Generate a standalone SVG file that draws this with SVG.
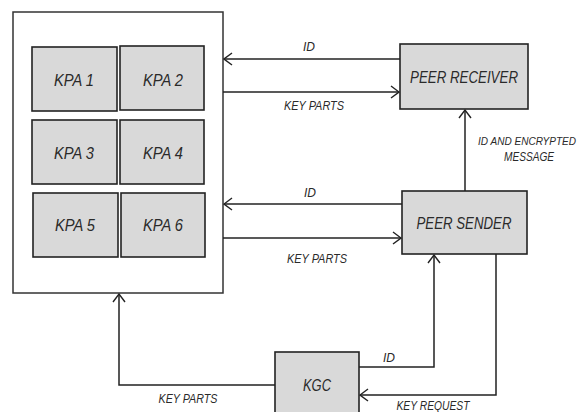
<svg xmlns="http://www.w3.org/2000/svg" width="587" height="412" viewBox="0 0 587 412">
<defs>
<style>
.box{fill:#d9d9d9;stroke:#222;stroke-width:1.6}
.frame{fill:#fff;stroke:#333;stroke-width:1.5}
.ln{fill:none;stroke:#222;stroke-width:1.5}
.big{font-family:"Liberation Sans",Arial,sans-serif;font-style:italic;font-size:17px;fill:#2a2a2a;text-anchor:middle}
.sm{font-family:"Liberation Sans",Arial,sans-serif;font-style:italic;font-size:12px;fill:#2a2a2a;text-anchor:middle}
</style>
<marker id="arr" markerWidth="10" markerHeight="14" refX="9" refY="7" orient="auto" markerUnits="userSpaceOnUse">
<path d="M1,1 L9,7 L1,13" fill="none" stroke="#222" stroke-width="1.4"/>
</marker>
</defs>
<rect width="587" height="412" fill="#fff"/>
<g id="container">
<rect class="frame" x="13" y="12" width="210" height="281"/>
</g>
<g id="kpa1"><rect class="box" x="32" y="47" width="85" height="64"/><text class="big" x="74" y="86" textLength="40" lengthAdjust="spacingAndGlyphs">KPA 1</text></g>
<g id="kpa2"><rect class="box" x="120" y="46" width="84" height="64"/><text class="big" x="163" y="86" textLength="40" lengthAdjust="spacingAndGlyphs">KPA 2</text></g>
<g id="kpa3"><rect class="box" x="32" y="120" width="85" height="64"/><text class="big" x="74" y="159" textLength="40" lengthAdjust="spacingAndGlyphs">KPA 3</text></g>
<g id="kpa4"><rect class="box" x="120" y="120" width="84" height="64"/><text class="big" x="163" y="159" textLength="40" lengthAdjust="spacingAndGlyphs">KPA 4</text></g>
<g id="kpa5"><rect class="box" x="33" y="193" width="85" height="64"/><text class="big" x="75" y="231" textLength="40" lengthAdjust="spacingAndGlyphs">KPA 5</text></g>
<g id="kpa6"><rect class="box" x="121" y="193" width="84" height="64"/><text class="big" x="163" y="231" textLength="40" lengthAdjust="spacingAndGlyphs">KPA 6</text></g>
<g id="peer-receiver"><rect class="box" x="400" y="44" width="128" height="65"/><text class="big" x="464" y="83" textLength="108" lengthAdjust="spacingAndGlyphs">PEER RECEIVER</text></g>
<g id="peer-sender"><rect class="box" x="402" y="191" width="125" height="63"/><text class="big" x="464" y="229" textLength="95" lengthAdjust="spacingAndGlyphs">PEER SENDER</text></g>
<g id="kgc"><rect class="box" x="275" y="352" width="84" height="70"/><text class="big" x="317" y="391" textLength="28" lengthAdjust="spacingAndGlyphs">KGC</text></g>
<g id="connectors">
<path class="ln" d="M400,59 L224,59" marker-end="url(#arr)"/>
<path class="ln" d="M223,92 L399,92" marker-end="url(#arr)"/>
<path class="ln" d="M465,191 L465,110" marker-end="url(#arr)"/>
<path class="ln" d="M402,204 L224,204" marker-end="url(#arr)"/>
<path class="ln" d="M223,238 L401,238" marker-end="url(#arr)"/>
<path class="ln" d="M359,367 L434,367 L434,255" marker-end="url(#arr)"/>
<path class="ln" d="M496,254 L496,395 L360,395" marker-end="url(#arr)"/>
<path class="ln" d="M275,385 L119,385 L119,294" marker-end="url(#arr)"/>
</g>
<g id="labels">
<text class="sm" x="309" y="51">ID</text>
<text class="sm" x="314" y="110" textLength="60" lengthAdjust="spacingAndGlyphs">KEY PARTS</text>
<text class="sm" x="527" y="145" style="font-size:11px" textLength="98" lengthAdjust="spacingAndGlyphs">ID AND ENCRYPTED</text>
<text class="sm" x="529" y="161" textLength="50" lengthAdjust="spacingAndGlyphs">MESSAGE</text>
<text class="sm" x="310" y="197">ID</text>
<text class="sm" x="317" y="263" textLength="60" lengthAdjust="spacingAndGlyphs">KEY PARTS</text>
<text class="sm" x="389" y="362">ID</text>
<text class="sm" x="188" y="403" textLength="59" lengthAdjust="spacingAndGlyphs">KEY PARTS</text>
<text class="sm" x="433" y="410" textLength="73" lengthAdjust="spacingAndGlyphs">KEY REQUEST</text>
</g>
</svg>
